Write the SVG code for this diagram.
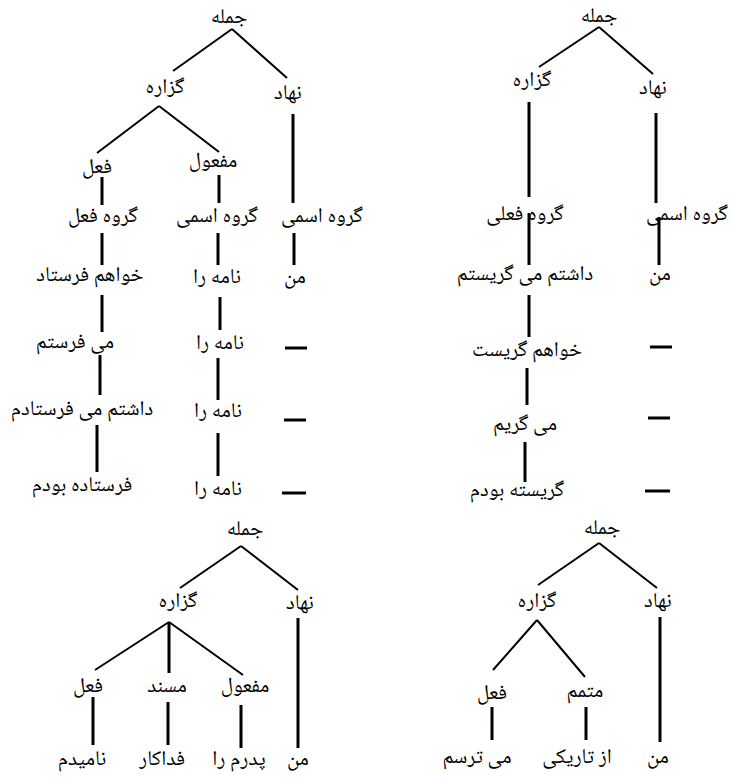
<svg xmlns="http://www.w3.org/2000/svg" width="733" height="778" viewBox="0 0 733 778">
<style>
text{font-family:"Noto Naskh Arabic","DejaVu Sans",serif;font-size:21px;fill:#000;text-anchor:middle;direction:rtl}
.d{stroke:#000;stroke-width:2;fill:none}
.v{stroke:#000;stroke-width:3;fill:none}
</style>
<rect width="733" height="778" fill="#fff"/>
<g id="connectors">
<path class="d" d="M232 29L173 71M232 29L287 78M159 106L97 153M159 106L219 152"/>
<path class="v" d="M293 114V203M102 177V205M219 175V203M102 233V265M218 233V265M294 233V265M102 295V332M220 297V330M100 355V395M218 358V400M97 425V472M218 433V476"/>
<path class="v" d="M285 348H307M284 420H306M282 493H306"/>
<path class="d" d="M599 27L539 67M599 27L653 74"/>
<path class="v" d="M529 102V197M656 113V203M529 213V265M659 217V265M529 295V337M527 368V405M525 442V482"/>
<path class="v" d="M650 347H672M648 418H670M645 491H670"/>
<path class="d" d="M241 546L180 588M241 546L298 590M169 622L95 670M169 622L243 675"/>
<path class="v" d="M169 622V673M298 618V748M93 697V745M168 702V745M241 705V748"/>
<path class="d" d="M599 543L538 585M599 543L657 588M537 620L493 670M537 620L585 677"/>
<path class="v" d="M660 617V742M492 707V740M586 707V740"/>
</g>
<g id="t1">
<g id="t1-jomle"><text x="229" y="23">جمله</text></g>
<g id="t1-gozare"><text x="165" y="93">گزاره</text></g>
<g id="t1-nahad"><text x="288" y="99">نهاد</text></g>
<g id="t1-fel"><text x="97" y="173">فعل</text></g>
<g id="t1-mafool"><text x="213" y="167">مفعول</text></g>
<g id="t1-gfel"><text x="103" y="222">گروه فعل</text></g>
<g id="t1-gesm1"><text x="217" y="222">گروه اسمی</text></g>
<g id="t1-gesm2"><text x="322" y="222">گروه اسمی</text></g>
<g id="t1-r1a"><text x="90" y="281">خواهم فرستاد</text></g>
<g id="t1-r1b"><text x="217" y="283">نامه را</text></g>
<g id="t1-r1c"><text x="295" y="283">من</text></g>
<g id="t1-r2a"><text x="75" y="348">می فرستم</text></g>
<g id="t1-r2b"><text x="220" y="349">نامه را</text></g>
<g id="t1-r3a"><text x="82" y="415">داشتم می فرستادم</text></g>
<g id="t1-r3b"><text x="218" y="417">نامه را</text></g>
<g id="t1-r4a"><text x="82" y="491">فرستاده بودم</text></g>
<g id="t1-r4b"><text x="218" y="495">نامه را</text></g>
</g>
<g id="t2">
<g id="t2-jomle"><text x="599" y="22">جمله</text></g>
<g id="t2-gozare"><text x="532" y="86">گزاره</text></g>
<g id="t2-nahad"><text x="653" y="94">نهاد</text></g>
<g id="t2-gfeli"><text x="525" y="220">گروه فعلی</text></g>
<g id="t2-gesm"><text x="687" y="220">گروه اسمی</text></g>
<g id="t2-r1a"><text x="525" y="280">داشتم می گریستم</text></g>
<g id="t2-r1c"><text x="660" y="280">من</text></g>
<g id="t2-r2a"><text x="527" y="356">خواهم گریست</text></g>
<g id="t2-r3a"><text x="525" y="430">می گریم</text></g>
<g id="t2-r4a"><text x="517" y="496">گریسته بودم</text></g>
</g>
<g id="t3">
<g id="t3-jomle"><text x="245" y="535">جمله</text></g>
<g id="t3-gozare"><text x="178" y="607">گزاره</text></g>
<g id="t3-nahad"><text x="300" y="609">نهاد</text></g>
<g id="t3-fel"><text x="88" y="692">فعل</text></g>
<g id="t3-mosnad"><text x="167" y="692">مسند</text></g>
<g id="t3-mafool"><text x="245" y="692">مفعول</text></g>
<g id="t3-b1"><text x="82" y="765">نامیدم</text></g>
<g id="t3-b2"><text x="162" y="765">فداکار</text></g>
<g id="t3-b3"><text x="239" y="765">پدرم را</text></g>
<g id="t3-b4"><text x="298" y="765">من</text></g>
</g>
<g id="t4">
<g id="t4-jomle"><text x="602" y="534">جمله</text></g>
<g id="t4-gozare"><text x="537" y="607">گزاره</text></g>
<g id="t4-nahad"><text x="658" y="607">نهاد</text></g>
<g id="t4-fel"><text x="492" y="699">فعل</text></g>
<g id="t4-motamam"><text x="585" y="697">متمم</text></g>
<g id="t4-b1"><text x="477" y="763">می ترسم</text></g>
<g id="t4-b2"><text x="577" y="763">از تاریکی</text></g>
<g id="t4-b3"><text x="658" y="763">من</text></g>
</g>
</svg>
